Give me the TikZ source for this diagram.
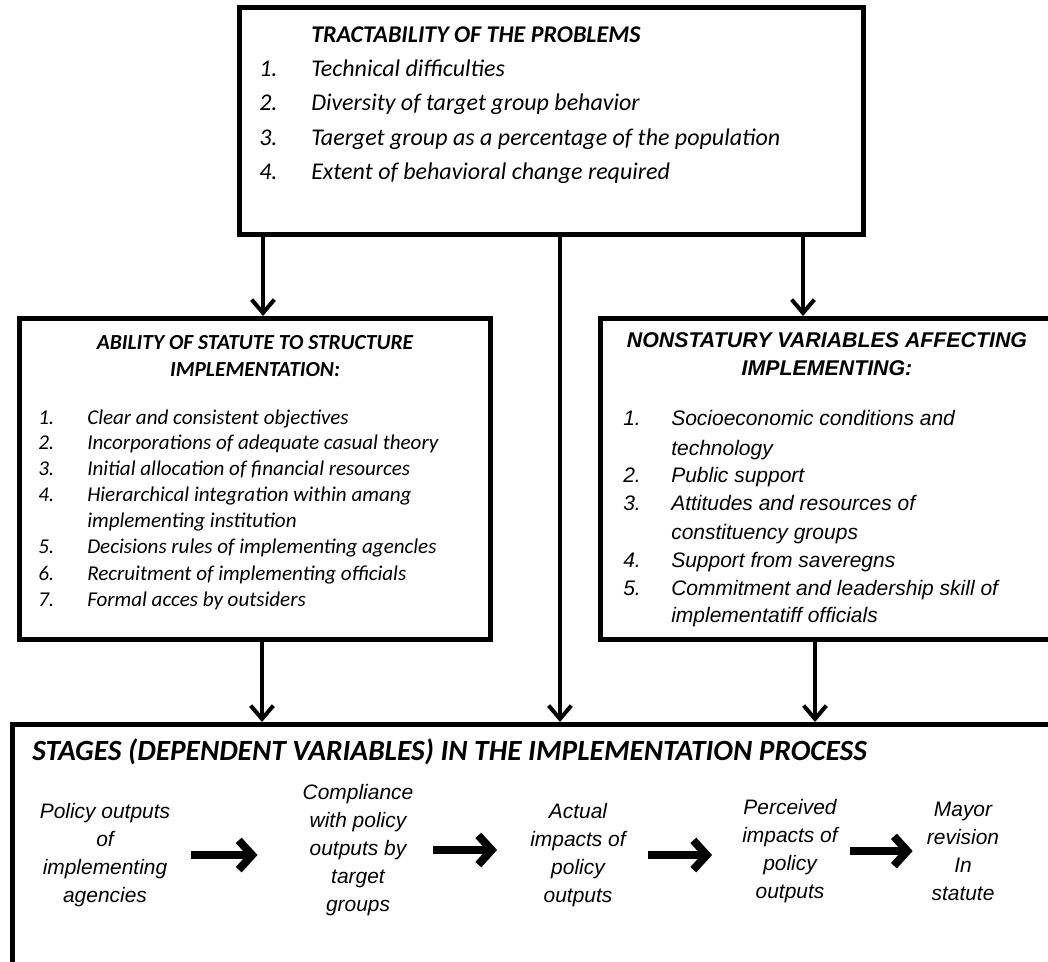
\documentclass[tikz,border=0pt]{standalone}
\usepackage{fontspec}
\newfontfamily\calibri{Carlito}
\newfontfamily\arial{Liberation Sans}
\usetikzlibrary{arrows.meta}

\def\px{0.75pt}

\tikzset{
  box/.style={draw, line width=3.75pt, rectangle, inner sep=0pt, anchor=north west},
  flow/.style={line width=3pt, -{Straight Barb[length=10pt, width=17pt]}},
  push/.style={line width=6pt, -{Straight Barb[length=10pt, width=22pt]}},
  hdtop/.style={anchor=mid west, inner sep=0pt, font=\calibri\bfseries\itshape\fontsize{18}{21}\selectfont},
  itop/.style={anchor=mid west, inner sep=0pt, font=\calibri\itshape\fontsize{18}{21}\selectfont},
  hdleft/.style={inner sep=0pt, align=center, font=\calibri\bfseries\itshape\fontsize{16.1}{20.25}\selectfont},
  ileft/.style={anchor=mid west, inner sep=0pt, font=\calibri\itshape\fontsize{15.8}{19}\selectfont},
  hdright/.style={inner sep=0pt, align=center, font=\arial\bfseries\itshape\fontsize{16}{21}\selectfont},
  iright/.style={anchor=mid west, inner sep=0pt, font=\arial\itshape\fontsize{15.75}{19}\selectfont},
  hdstage/.style={anchor=mid west, inner sep=0pt, font=\calibri\bfseries\itshape\fontsize{22}{26}\selectfont},
  stagetxt/.style={inner sep=0pt, align=center, font=\arial\itshape\fontsize{15.7}{21}\selectfont}
}

\begin{document}
\begin{tikzpicture}[x=0.75pt, y=-0.75pt]
% Page frame
\fill[white] (0,0) rectangle (1048,961);
\useasboundingbox (0,0) rectangle (1048,961);
\clip (0,0) rectangle (1048,961);

% Boxes
\node[box, minimum width=624*\px, minimum height=227*\px] (tract) at (237,5) {};
\node[box, minimum width=471*\px, minimum height=321*\px] (ablt) at (17,316) {};
\node[box, minimum width=472*\px, minimum height=321*\px] (nonst) at (598,316) {};
\node[box, minimum width=1060*\px, minimum height=273*\px] (stages) at (10,722) {};

% Tractability of the problems
\node[hdtop] (tractT) at (311,40) {TRACTABILITY OF THE PROBLEMS};
\foreach \i/\yy/\txt in {1/74/Technical difficulties,
                         2/108/Diversity of target group behavior,
                         3/143/Taerget group as a percentage of the population,
                         4/177/Extent of behavioral change required}{
  \node[itop] (tractN\i) at (259,\yy) {\i.};
  \node[itop] (tractI\i) at (311,\yy) {\txt};
}

% Ability of statute
\node[hdleft] (abltT) at (255,356) {ABILITY OF STATUTE TO STRUCTURE\\IMPLEMENTATION:};
\foreach \i/\yy/\txt in {1/422/Clear and consistent objectives,
                         2/447/Incorporations of adequate casual theory,
                         3/473/Initial allocation of financial resources,
                         4/499/Hierarchical integration within amang,
                         5/551/Decisions rules of implementing agencles,
                         6/578/Recruitment of implementing officials,
                         7/604/Formal acces by outsiders}{
  \node[ileft] (abltN\i) at (38,\yy) {\i.};
  \node[ileft] (abltI\i) at (87,\yy) {\txt};
}
\node[ileft] (abltI4b) at (87,525) {implementing institution};

% Nonstatury variables
\node[hdright] (nonstT) at (827,354) {NONSTATURY VARIABLES AFFECTING\\IMPLEMENTING:};
\foreach \i/\yy/\txt in {1/423/Socioeconomic conditions and,
                         2/480/Public support,
                         3/508/Attitudes and resources of,
                         4/565/Support from saveregns,
                         5/593/Commitment and leadership skill of}{
  \node[iright] (nonstN\i) at (623,\yy) {\i.};
  \node[iright] (nonstI\i) at (671,\yy) {\txt};
}
\node[iright] (nonstI1b) at (671,453) {technology};
\node[iright] (nonstI3b) at (671,537) {constituency groups};
\node[iright] (nonstI5b) at (671,620) {implementatiff officials};

% Stages
\node[hdstage] (stagesT) at (32,758) {STAGES (DEPENDENT VARIABLES) IN THE IMPLEMENTATION PROCESS};
\node[stagetxt] (s1) at (105,855) {Policy outputs\\of\\implementing\\agencies};
\node[stagetxt] (s2) at (358,850) {Compliance\\with policy\\outputs by\\target\\groups};
\node[stagetxt] (s3) at (578,855) {Actual\\impacts of\\policy\\outputs};
\node[stagetxt] (s4) at (790,851) {Perceived\\impacts of\\policy\\outputs};
\node[stagetxt] (s5) at (963,851) {Mayor\\revision\\In\\statute};

% Arrows between the stages
\draw[push, shorten <=21*\px, shorten >=45*\px] (s1.east) -- (s1.east -| s2.west);
\draw[push, shorten <=19*\px, shorten >=33*\px] (s2.east) -- (s2.east -| s3.west);
\draw[push, shorten <=22*\px, shorten >=30*\px] (s3.east) -- (s3.east -| s4.west);
\draw[push, shorten <=12*\px, shorten >=14*\px] (s4.east) -- (s4.east -| s5.west);

% Arrows between the boxes
\coordinate (xAin) at (263,0);
\coordinate (xAout) at (262,0);
\coordinate (xMid) at (560,0);
\coordinate (xNin) at (803,0);
\coordinate (xNout) at (815,0);
\draw[flow] (tract.south -| xAin) -- (ablt.north -| xAin);
\draw[flow] (tract.south -| xNin) -- (nonst.north -| xNin);
\draw[flow] (tract.south -| xMid) -- (stages.north -| xMid);
\draw[flow] (ablt.south -| xAout) -- (stages.north -| xAout);
\draw[flow] (nonst.south -| xNout) -- (stages.north -| xNout);
\end{tikzpicture}
\end{document}
